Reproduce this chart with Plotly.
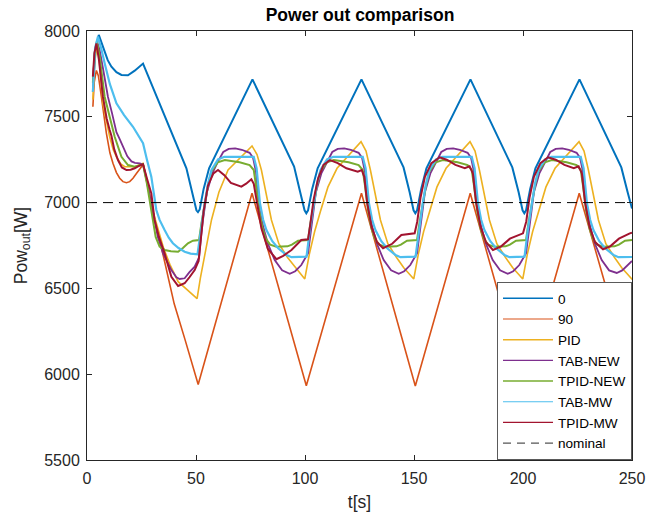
import plotly.graph_objects as go

# ---------------- data ----------------
t_zero = [2.7, 3.8, 5.4, 7.5, 9.5, 11.2, 13.5, 15.8, 18.8, 21.9, 24, 25.7, 45.6, 48.5, 50.2, 50.9, 51.7, 53.5, 56,
          75.9, 95, 97.8, 99.8, 100.6, 101.4, 103.3, 105.8,
          125.9, 145.2, 148, 149.8, 150.6, 151.4, 153.3, 155.7,
          175.9, 195.1, 198, 199.8, 200.6, 201.4, 203.3, 205.7,
          225.9, 245.1, 248, 250]
p_zero = [7646, 7880, 7977, 7900, 7830, 7792, 7760, 7744, 7742, 7769, 7795, 7810, 7200, 7040, 6955, 6945, 6960, 7080, 7200,
          7718, 7210, 7060, 6955, 6938, 6955, 7080, 7200,
          7718, 7205, 7060, 6955, 6938, 6955, 7080, 7200,
          7718, 7205, 7060, 6955, 6938, 6955, 7080, 7200,
          7718, 7205, 7060, 6965]

t_90 = [2.7, 3.3, 4.3, 5.2, 6.6, 8.9, 10.5, 11.9, 13.5, 15, 16.5, 18.1, 19.6, 21.1, 23, 24.9, 25.8, 27, 30, 35, 40, 45, 51,
        75.7, 100.6, 125.9, 150.6, 175.8, 200.6, 225.8, 250]
p_90 = [7559, 7700, 7770, 7740, 7617, 7404, 7290, 7229, 7175, 7142, 7122, 7116, 7122, 7142, 7175, 7209, 7222, 7160, 6960, 6690, 6410, 6200, 5940,
        7054, 5933, 7054, 5931, 7054, 5933, 7054, 5975]

t_pid = [2.7, 3.5, 4.6, 5.5, 7.3, 9.6, 10.4, 12, 13.5, 15.5, 17.3, 21.9, 24.5, 25.7, 27, 30, 35, 38, 41.8, 46, 50.5,
         52, 54, 57.1, 60.5, 64.7, 75.7, 78, 80, 84.6, 88, 92, 95.3, 99.9,
         102, 104.4, 107.1, 110.5, 114.7, 125.7, 128, 130, 134.6, 138, 142, 145.3, 149.9,
         152, 154.4, 157.1, 160.5, 164.7, 175.7, 178, 180, 184.6, 188, 192, 195.3, 199.9,
         202, 204.4, 207.1, 210.5, 214.7, 225.7, 228, 230, 234.6, 238, 242, 245.3, 249.9, 250]
p_pid = [7600, 7820, 7909, 7850, 7579, 7423, 7384, 7310, 7267, 7225, 7209, 7209, 7220, 7229, 7150, 6960, 6740, 6640, 6539, 6490, 6440,
         6560, 6700, 6899, 7060, 7190, 7330, 7280, 7190, 6899, 6760, 6680, 6627, 6555,
         6700, 6830, 6950, 7090, 7200, 7355, 7300, 7190, 6899, 6760, 6680, 6620, 6555,
         6700, 6830, 6950, 7090, 7200, 7355, 7300, 7190, 6899, 6760, 6680, 6620, 6555,
         6700, 6830, 6950, 7090, 7200, 7355, 7300, 7190, 6899, 6760, 6680, 6620, 6555, 6556]

t_tabnew = [2.7, 3.6, 4.6, 5.8, 7.5, 9.6, 11.5, 13.5, 15, 16.5, 18.5, 20.4, 22, 24.2, 25.7, 27.5, 30, 32.5, 34.9, 38.7, 41, 42.5, 44.8, 47, 49.4, 51.4,
            52.3, 53.2, 55, 57.5, 60.1, 62.5, 65, 68, 71, 74.6, 76.2, 77.5, 79.2, 81, 83, 86.1, 89.5, 93, 95.5, 98.3, 101.4,
            102.3, 103.2, 105, 107.5, 110.1, 112.5, 115, 118, 121, 124.6, 126.2, 127.5, 129.2, 131, 133, 136.1, 139.5, 143, 145.5, 148.3, 151.4,
            152.3, 153.2, 155, 157.5, 160.1, 162.5, 165, 168, 171, 174.6, 176.2, 177.5, 179.2, 181, 183, 186.1, 189.5, 193, 195.5, 198.3, 201.4,
            202.3, 203.2, 205, 207.5, 210.1, 212.5, 215, 218, 221, 224.6, 226.2, 227.5, 229.2, 231, 233, 236.1, 239.5, 243, 245.5, 248.3, 250]
p_tabnew = [7700, 7880, 7938, 7890, 7770, 7617, 7520, 7410, 7370, 7326, 7270, 7240, 7232, 7229, 7222, 7120, 6950, 6800, 6704, 6607, 6565, 6555, 6559, 6595, 6627, 6680,
            6800, 6900, 7060, 7170, 7240, 7295, 7313, 7316, 7308, 7290, 7260, 7180, 6957, 6850, 6760, 6665, 6605, 6585, 6600, 6636, 6705,
            6800, 6900, 7060, 7170, 7240, 7295, 7313, 7316, 7308, 7290, 7260, 7180, 6957, 6850, 6760, 6665, 6605, 6585, 6600, 6636, 6705,
            6800, 6900, 7060, 7170, 7240, 7295, 7313, 7316, 7308, 7290, 7260, 7180, 6957, 6850, 6760, 6665, 6605, 6585, 6600, 6636, 6705,
            6800, 6900, 7060, 7170, 7240, 7295, 7313, 7316, 7308, 7290, 7260, 7180, 6957, 6850, 6760, 6665, 6605, 6590, 6605, 6636, 6660]

t_tpidnew = [2.7, 3.6, 4.5, 5.8, 8.1, 11.9, 12.7, 15.8, 18.8, 21.9, 25.7, 27.5, 29.5, 31.5, 33.3, 35.6, 38.5, 41.8, 44, 46.3, 48.6, 51.4,
             52.5, 54, 55.5, 57, 60, 63.2, 70, 74.6, 76.5, 77.5, 79, 80.5, 82, 84, 86.9, 92, 94, 96.8, 101.4,
             102.5, 104, 105.5, 107, 110, 113.2, 120, 124.6, 126.5, 127.5, 129, 130.5, 132, 134, 136.9, 142, 144, 146.8, 151.4,
             152.5, 154, 155.5, 157, 160, 163.2, 170, 174.6, 176.5, 177.5, 179, 180.5, 182, 184, 186.9, 192, 194, 196.8, 201.4,
             202.5, 204, 205.5, 207, 210, 213.2, 220, 224.6, 226.5, 227.5, 229, 230.5, 232, 234, 236.9, 242, 244, 246.8, 250]
p_tpidnew = [7700, 7880, 7938, 7850, 7617, 7423, 7384, 7267, 7219, 7209, 7223, 7110, 6950, 6800, 6743, 6724, 6716, 6714, 6735, 6763, 6778, 6782,
             6880, 6990, 7100, 7180, 7235, 7248, 7235, 7219, 7190, 7100, 6950, 6850, 6790, 6755, 6743, 6745, 6755, 6778, 6782,
             6880, 6990, 7100, 7180, 7235, 7248, 7235, 7219, 7190, 7100, 6950, 6850, 6790, 6755, 6743, 6745, 6755, 6778, 6782,
             6880, 6990, 7100, 7180, 7235, 7248, 7235, 7219, 7190, 7100, 6950, 6850, 6790, 6755, 6743, 6745, 6755, 6778, 6782,
             6880, 6990, 7100, 7180, 7235, 7248, 7235, 7219, 7190, 7100, 6950, 6850, 6790, 6755, 6743, 6745, 6755, 6778, 6782]

t_tabmw = [2.7, 3.7, 5.0, 6.5, 8.1, 10.5, 13.5, 17, 21.1, 24, 25.7, 27.5, 29.5, 31.8, 33.3, 35.6, 37.5, 39.4, 42, 44.8, 47.5, 50.7,
           52.3, 54, 55.5, 57.1, 60.1, 63, 76.5, 77.8, 79.3, 80.8, 82.3, 85, 87.7, 91.5, 93.8, 100.7,
           102.3, 104, 105.5, 107.1, 110.1, 113, 126.5, 127.8, 129.3, 130.8, 132.3, 135, 137.7, 141.5, 143.8, 150.7,
           152.3, 154, 155.5, 157.1, 160.1, 163, 176.5, 177.8, 179.3, 180.8, 182.3, 185, 187.7, 191.5, 193.8, 200.7,
           202.3, 204, 205.5, 207.1, 210.1, 213, 226.5, 227.8, 229.3, 230.8, 232.3, 235, 237.7, 241.5, 243.8, 250]
p_tabmw = [7646, 7900, 7967, 7900, 7812, 7690, 7579, 7510, 7442, 7380, 7346, 7250, 7151, 6957, 6899, 6840, 6795, 6763, 6735, 6714, 6703, 6699,
           6850, 6996, 7110, 7190, 7252, 7267, 7267, 7200, 7000, 6900, 6840, 6775, 6734, 6695, 6682, 6685,
           6850, 6996, 7110, 7190, 7252, 7267, 7267, 7200, 7000, 6900, 6840, 6775, 6734, 6695, 6682, 6685,
           6850, 6996, 7110, 7190, 7252, 7267, 7267, 7200, 7000, 6900, 6840, 6775, 6734, 6695, 6682, 6685,
           6850, 6996, 7110, 7190, 7252, 7267, 7267, 7200, 7000, 6900, 6840, 6775, 6734, 6695, 6682, 6683]

t_tpidmw = [2.7, 3.4, 4.3, 5.5, 7.3, 9, 10.4, 11.2, 12.5, 14.2, 16, 18.1, 20, 21.9, 24, 25.7, 27.5, 29.5, 31, 33, 35.6, 38.7, 41.8, 44.8, 47, 49.4, 51.2,
            52, 53.5, 55.5, 58, 60.1, 63, 66, 70.8, 73, 75.4, 76.5, 78, 80, 83, 86.9, 90, 93.8, 98.3, 101.4,
            102.5, 104, 106, 108.5, 111.5, 115, 119, 124.2, 126, 127.2, 128.5, 130.5, 133, 135.8, 140, 144.2, 150.3,
            151.5, 153, 155, 158, 161.8, 165, 169, 173.3, 175.5, 177, 178.5, 180.5, 183, 186.2, 190, 194, 200,
            201.5, 203, 205, 208, 211.5, 215, 219, 223.3, 225.5, 227, 228.5, 230.5, 233, 236.7, 240, 244, 249, 250]
p_tpidmw = [7734, 7870, 7928, 7830, 7617, 7490, 7423, 7390, 7310, 7248, 7205, 7190, 7192, 7200, 7215, 7223, 7140, 7054, 6899, 6800, 6704, 6568, 6514, 6530, 6565, 6607, 6660,
            6750, 6950, 7100, 7170, 7190, 7160, 7115, 7093, 7110, 7136, 7110, 6990, 6850, 6730, 6670, 6690, 6724, 6782, 6786,
            6880, 7020, 7140, 7220, 7248, 7230, 7200, 7180, 7190, 7150, 7000, 6860, 6770, 6734, 6760, 6811, 6821,
            6890, 7030, 7150, 7230, 7264, 7250, 7220, 7200, 7212, 7170, 7000, 6860, 6770, 6724, 6745, 6790, 6821,
            6890, 7030, 7150, 7230, 7264, 7250, 7220, 7200, 7212, 7170, 7000, 6860, 6770, 6728, 6745, 6790, 6821, 6825]

t_nominal = [0, 250]
p_nominal = [7000, 7000]

series = [
    ("0", t_zero, p_zero, "#0072BD", 2.0, 1.5),
    ("90", t_90, p_90, "#D95319", 1.6, 1.2),
    ("PID", t_pid, p_pid, "#EDB120", 1.6, 1.5),
    ("TAB-NEW", t_tabnew, p_tabnew, "#7E2F8E", 1.8, 1.2),
    ("TPID-NEW", t_tpidnew, p_tpidnew, "#77AC30", 2.0, 1.5),
    ("TAB-MW", t_tabmw, p_tabmw, "#4DBEEE", 2.2, 1.2),
    ("TPID-MW", t_tpidmw, p_tpidmw, "#A2142F", 2.0, 1.2),
]

FONT = "Liberation Sans, Arial, Helvetica, sans-serif"
fig = go.Figure()
for name, t, p, col, w, lw in series:
    fig.add_trace(go.Scatter(x=t, y=p, mode="lines", name=name, showlegend=False,
                             line=dict(color=col, width=w)))
fig.add_trace(go.Scatter(x=t_nominal, y=p_nominal, mode="lines", name="nominal", showlegend=False,
                         line=dict(color="#000000", width=1, dash="10px,6px")))
# legend entries (thin sample lines as in the reference legend)
for name, t, p, col, w, lw in series:
    fig.add_trace(go.Scatter(x=[None], y=[None], mode="lines", name=name,
                             line=dict(color=col, width=lw)))
fig.add_trace(go.Scatter(x=[None], y=[None], mode="lines", name="nominal",
                         line=dict(color="#555555", width=1.2, dash="8px,6px")))

axis_common = dict(showline=True, linecolor="#262626", linewidth=1, mirror="ticks",
                   ticks="inside", ticklen=5, tickcolor="#262626", tickwidth=1,
                   showgrid=False, zeroline=False, automargin=False,
                   tickfont=dict(family=FONT, size=16, color="#262626"))
fig.update_layout(
    width=659, height=515,
    margin=dict(l=87, r=27, t=31, b=55, autoexpand=False),
    paper_bgcolor="white", plot_bgcolor="white",
    title=dict(text="<b>Power out comparison</b>", x=0.5463, xanchor="center",
               y=1 - 15 / 515, yanchor="middle", yref="container",
               font=dict(family=FONT, size=17.5, color="#000000")),
    xaxis=dict(range=[0, 250], dtick=50, tick0=0, ticklabelstandoff=4,
               title=dict(text="t[s]", font=dict(family=FONT, size=17.5, color="#262626"), standoff=9),
               **axis_common),
    yaxis=dict(range=[5500, 8000], dtick=500, tick0=5500, ticklabelstandoff=3,
               title=dict(text="Pow<sub>out</sub>[W]", font=dict(family=FONT, size=17.5, color="#262626"), standoff=12),
               **axis_common),
    legend=dict(x=1, y=0, xanchor="right", yanchor="bottom",
                bgcolor="white", bordercolor="#5a5a5a", borderwidth=1,
                font=dict(family=FONT, size=13.6, color="#000000"),
                tracegroupgap=0, itemwidth=50),
    showlegend=True,
)
fig.write_html("out.html", config={"displayModeBar": False},
               post_script="document.body.style.margin='0px';document.body.style.padding='0px';")
